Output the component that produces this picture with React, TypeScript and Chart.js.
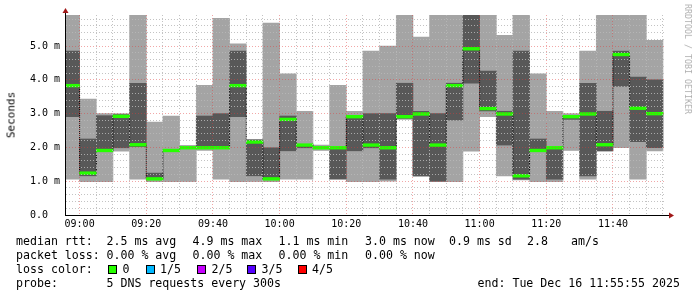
import React, { useEffect, useRef } from 'react';
import { Chart, registerables } from 'chart.js';

Chart.register(...registerables);

// 5-minute slots (start times)
const slotTimes = [
  '08:55', '09:00', '09:05', '09:10', '09:15', '09:20', '09:25', '09:30', '09:35', '09:40', '09:45', '09:50',
  '09:55', '10:00', '10:05', '10:10', '10:15', '10:20', '10:25', '10:30', '10:35', '10:40', '10:45', '10:50',
  '10:55', '11:00', '11:05', '11:10', '11:15', '11:20', '11:25', '11:30', '11:35', '11:40', '11:45', '11:50',
];
// smoke: min .. max of the 5 pings (ms)
const pingMin = [1.06, 0.99, 0.99, 1.89, 1.06, 0.99, 0.99, 0.99, 1.91, 1.06, 0.99, 0.99, 0.99, 1.06, 1.06, 1.91, 1.05, 0.99, 0.99, 1.0, 2.83, 1.15, 0.99, 0.99, 1.89, 2.91, 1.16, 1.04, 0.99, 0.99, 1.91, 1.06, 1.89, 1.99, 1.06, 1.9];
const pingLow = [2.91, 1.16, 1.9, 1.99, 2.02, 1.05, 1.9, 1.98, 1.98, 1.98, 2.91, 1.16, 1.05, 1.9, 1.99, 1.98, 1.07, 1.9, 1.99, 1.06, 2.86, 1.16, 1.0, 2.81, 3.9, 3.08, 2.07, 1.06, 1.9, 1.06, 2.83, 1.16, 1.9, 3.81, 2.17, 1.99];
const median = [3.83, 1.24, 1.91, 2.92, 2.08, 1.07, 1.91, 1.99, 1.99, 1.99, 3.83, 2.16, 1.07, 2.83, 2.07, 1.99, 1.99, 2.91, 2.07, 1.99, 2.91, 2.99, 2.07, 3.83, 4.92, 3.15, 2.99, 1.16, 1.91, 1.99, 2.91, 2.99, 2.08, 4.75, 3.16, 3.0];
const pingHigh = [4.85, 2.25, 2.94, 2.97, 3.9, 1.24, 1.92, 2.0, 2.93, 3.0, 4.85, 2.22, 1.99, 2.93, 2.09, 2.0, 2.0, 2.94, 3.0, 3.0, 3.9, 3.07, 3.0, 3.9, 6.5, 4.26, 3.07, 4.85, 2.25, 2.0, 2.93, 3.9, 3.07, 4.85, 4.08, 4.0];
const pingMax = [6.5, 3.43, 3.0, 3.0, 6.5, 2.75, 2.93, 2.06, 3.84, 5.82, 5.07, 2.24, 5.68, 4.18, 3.07, 2.07, 3.84, 3.07, 4.85, 5.0, 6.5, 5.27, 6.5, 6.5, 6.5, 6.5, 5.32, 6.5, 4.18, 3.07, 3.0, 4.85, 6.5, 6.5, 6.5, 5.17];

const xTickLabels = ['09:00', '09:20', '09:40', '10:00', '10:20', '10:40', '11:00', '11:20', '11:40'];
const startTime = '08:55:55';
const endTime = '11:55:55';
const slotMinutes = 5;
const yMax = 5.92;

const rttStats = ['2.5 ms avg', '4.9 ms max', '1.1 ms min', '3.0 ms now'];
const lossStats = ['0.00 % avg', '0.00 % max', '0.00 % min', '0.00 % now'];
const lossLabels = ['0', '1/5', '2/5', '3/5', '4/5'];
const lossColors = ['#26ff00', '#00b8ff', '#c600ff', '#5500ff', '#ff0000'];

const toMin = (t: string) => {
  const [h, m, s] = t.split(':').map(Number);
  return h * 60 + m + (s || 0) / 60 - 540;
};
const fmt = (v: number) => {
  const tot = Math.round(v + 540);
  const h = Math.floor(tot / 60);
  const m = tot % 60;
  return `${String(h).padStart(2, '0')}:${String(m).padStart(2, '0')}`;
};

const mono = '"DejaVu Sans Mono", monospace';
const GRID_MINOR = 'rgba(185,185,185,0.85)';
const GRID_MAJOR = 'rgba(225,60,60,0.45)';

const axesPlugin = {
  id: 'rrdAxes',
  afterDraw(chart: any) {
    const { ctx, chartArea: a } = chart;
    ctx.save();
    ctx.strokeStyle = '#000';
    ctx.lineWidth = 1;
    ctx.beginPath();
    ctx.moveTo(a.left - 1, a.bottom + 0.5);
    ctx.lineTo(a.right + 4, a.bottom + 0.5);
    ctx.moveTo(a.left - 0.5, a.bottom + 1);
    ctx.lineTo(a.left - 0.5, a.top - 2);
    ctx.stroke();
    ctx.fillStyle = '#a01818';
    ctx.beginPath();
    ctx.moveTo(a.left - 0.5, a.top - 7);
    ctx.lineTo(a.left - 3.5, a.top - 2);
    ctx.lineTo(a.left + 2.5, a.top - 2);
    ctx.closePath();
    ctx.fill();
    ctx.beginPath();
    ctx.moveTo(a.right + 3, a.bottom - 2.5);
    ctx.lineTo(a.right + 8, a.bottom + 0.5);
    ctx.lineTo(a.right + 3, a.bottom + 3.5);
    ctx.closePath();
    ctx.fill();
    ctx.restore();
  },
};

export default function App() {
  const ref = useRef<HTMLCanvasElement>(null);

  useEffect(() => {
    document.body.style.margin = '0';
    if (!ref.current) return;
    const starts = slotTimes.map(toMin);
    const centers = starts.map((s) => s + slotMinutes / 2);
    const lightData = centers.map((x, i) => ({ x, y: [pingMin[i], pingMax[i]] }));
    const darkData = centers.map((x, i) => ({ x, y: [pingLow[i], pingHigh[i]] }));
    const medData = centers.map((x, i) => ({ x, y: [median[i] - 0.04, median[i] + 0.04] }));
    const stepData = starts.flatMap((s, i) => [
      { x: s, y: median[i] },
      { x: s + slotMinutes, y: median[i] },
    ]);
    const xMin = toMin(startTime);
    const xMax = toMin(endTime);
    const barCommon = {
      type: 'bar' as const,
      grouped: false,
      categoryPercentage: 1,
      barPercentage: 1,
      borderWidth: 0,
      clip: 0,
    };
    const tickFont = { family: mono, size: 10 };

    const chart = new Chart(ref.current, {
      type: 'bar',
      data: {
        datasets: [
          { ...barCommon, data: lightData as any, backgroundColor: '#a4a4a4', order: 4 },
          { ...barCommon, data: darkData as any, backgroundColor: '#585858', order: 3 },
          {
            type: 'line',
            data: stepData as any,
            borderColor: '#000',
            borderWidth: 1,
            borderDash: [1, 1],
            pointRadius: 0,
            tension: 0,
            clip: 0,
            order: 2,
          } as any,
          { ...barCommon, data: medData as any, backgroundColor: '#26ff00', order: 1 },
        ],
      },
      options: {
        animation: false,
        responsive: false,
        devicePixelRatio: 1,
        events: [],
        layout: { padding: { left: 30, top: 15, right: 31, bottom: 62 } },
        plugins: { legend: { display: false }, tooltip: { enabled: false } },
        scales: {
          x: {
            type: 'linear',
            min: xMin,
            max: xMax,
            offset: false,
            position: 'bottom',
            afterBuildTicks: (s: any) => {
              s.ticks = xTickLabels.map((l) => ({ value: toMin(l) }));
            },
            afterFit: (s: any) => {
              s.height = 20;
            },
            ticks: {
              callback: (v: any) => fmt(Number(v)),
              font: tickFont,
              color: '#000',
              padding: 3,
              maxRotation: 0,
              autoSkip: false,
            },
            grid: { color: GRID_MAJOR, drawTicks: false, offset: false, z: 1 } as any,
            border: { display: false, dash: [1, 2] },
          } as any,
          xMinor: {
            type: 'linear',
            min: xMin,
            max: xMax,
            offset: false,
            position: 'bottom',
            afterBuildTicks: (s: any) => {
              s.ticks = starts
                .map((st) => st + slotMinutes)
                .filter((v) => v > xMin && v <= xMax)
                .map((v) => ({ value: v }));
            },
            afterFit: (s: any) => {
              s.height = 0;
            },
            ticks: { display: false },
            grid: {
              color: (c: any) =>
                c.tick && Math.abs(c.tick.value % 20) < 1e-6 ? 'rgba(0,0,0,0)' : GRID_MINOR,
              drawTicks: false,
              offset: false,
              z: 1,
            } as any,
            border: { display: false, dash: [1, 2] },
          } as any,
          y: {
            type: 'linear',
            min: 0,
            max: yMax,
            position: 'left',
            afterFit: (s: any) => {
              s.width = 36;
            },
            ticks: {
              stepSize: 1,
              includeBounds: false,
              crossAlign: 'far',
              callback: (v: any) => (Number(v) === 0 ? '0.0' : `${Number(v).toFixed(1)} m`),
              font: tickFont,
              color: '#000',
            },
            grid: { color: GRID_MAJOR, drawTicks: false, z: 1 } as any,
            border: { display: false, dash: [1, 2] },
          } as any,
          yMinor: {
            type: 'linear',
            min: 0,
            max: yMax,
            position: 'left',
            afterFit: (s: any) => {
              s.width = 0;
            },
            ticks: { display: false, stepSize: 0.2, includeBounds: false },
            grid: {
              color: (c: any) => {
                const v = c.tick ? c.tick.value : 0;
                return Math.abs(v - Math.round(v)) < 1e-6 ? 'rgba(0,0,0,0)' : GRID_MINOR;
              },
              drawTicks: false,
              z: 1,
            } as any,
            border: { display: false, dash: [1, 2] },
          } as any,
        },
      },
      plugins: [axesPlugin],
    });
    return () => chart.destroy();
  }, []);

  const txt = (left: number, top: number, text: string, key?: string) => (
    <div
      key={key}
      style={{
        position: 'absolute',
        left,
        top,
        fontFamily: mono,
        fontSize: 11.6,
        lineHeight: '14px',
        whiteSpace: 'pre',
        color: '#000',
      }}
    >
      {text}
    </div>
  );
  const cols = [106.5, 192.5, 278.5, 365];
  const sqX = [108, 146, 197, 247, 298];
  const lblX = [122.5, 160, 211.5, 261.5, 312];

  return (
    <div style={{ position: 'relative', width: 697, height: 297, background: '#fff', overflow: 'hidden' }}>
      <canvas ref={ref} width={697} height={297} style={{ display: 'block', width: 697, height: 297 }} />
      <div
        style={{
          position: 'absolute',
          left: 10.5,
          top: 115,
          transform: 'translate(-50%, -50%) rotate(-90deg)',
          fontFamily: mono,
          fontSize: 11,
          whiteSpace: 'pre',
          color: '#000',
        }}
      >
        Seconds
      </div>
      <div
        style={{
          position: 'absolute',
          left: 688,
          top: 59,
          transform: 'translate(-50%, -50%) rotate(90deg)',
          fontFamily: mono,
          fontSize: 8.3,
          whiteSpace: 'pre',
          color: '#b0b0b0',
        }}
      >
        RRDTOOL / TOBI OETIKER
      </div>
      {txt(16, 234, 'median rtt:')}
      {rttStats.map((s, i) => txt(cols[i], 234, s, 'r' + i))}
      {txt(449, 234, '0.9 ms sd')}
      {txt(527, 234, '2.8')}
      {txt(571, 234, 'am/s')}
      {txt(16, 248, 'packet loss:')}
      {lossStats.map((s, i) => txt(cols[i], 248, s, 'l' + i))}
      {txt(16, 262, 'loss color:')}
      {lossLabels.map((l, i) => (
        <React.Fragment key={'c' + i}>
          <div
            style={{
              position: 'absolute',
              left: sqX[i],
              top: 265,
              width: 9,
              height: 9,
              boxSizing: 'border-box',
              border: '1px solid #000',
              background: lossColors[i],
            }}
          />
          {txt(lblX[i], 262, l)}
        </React.Fragment>
      ))}
      {txt(16, 276, 'probe:')}
      {txt(106.5, 276, '5 DNS requests every 300s')}
      {txt(477.5, 276, 'end: Tue Dec 16 11:55:55 2025')}
    </div>
  );
}
